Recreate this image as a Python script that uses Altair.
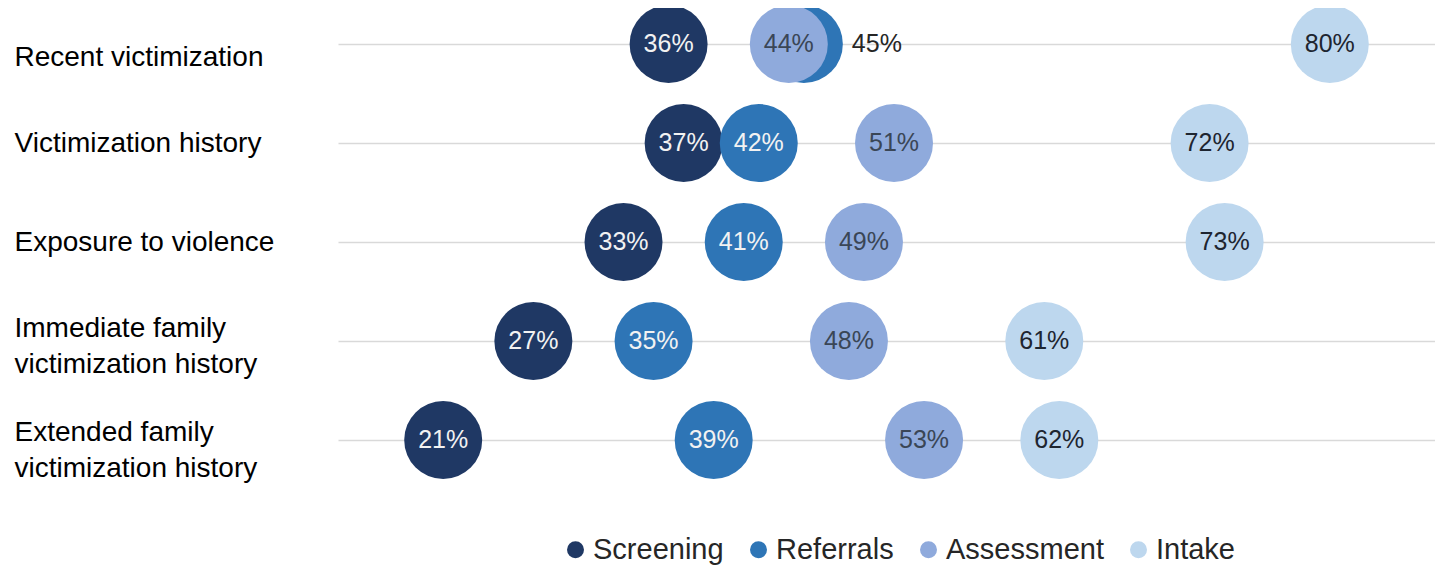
import altair as alt
import pandas as pd

categories = [
    "Recent victimization",
    "Victimization history",
    "Exposure to violence",
    "Immediate family victimization history",
    "Extended family victimization history",
]
series = ["Screening", "Referrals", "Assessment", "Intake"]
screening = [36, 37, 33, 27, 21]
referrals = [45, 42, 41, 35, 39]
assessment = [44, 51, 49, 48, 53]
intake = [80, 72, 73, 61, 62]

colors = ["#1F3864", "#2E75B6", "#8FAADC", "#BDD7EE"]
text_colors = ["#F2F2F2", "#F2F2F2", "#3A4656", "#1E2530"]

values = [screening, referrals, assessment, intake]
rows = []
for si, s in enumerate(series):
    for ci, c in enumerate(categories):
        v = values[si][ci]
        # label goes outside if a later-drawn circle overlaps this one
        covered = any(abs(values[sj][ci] - v) < 3 for sj in range(si + 1, len(series)))
        rows.append({"category": c, "series": s, "value": v,
                     "label": f"{v}%", "outside": covered,
                     "tcolor": text_colors[si], "order": si})
df = pd.DataFrame(rows)

FONT = "Liberation Sans"

x = alt.X("value:Q", scale=alt.Scale(domain=[14, 87], nice=False, zero=False), axis=None)
y = alt.Y(
    "category:N",
    sort=categories,
    scale=alt.Scale(type="point", padding=0.283),
    axis=alt.Axis(
        title=None, grid=True, gridColor="#D9D9D9", gridWidth=1.5,
        domain=False, ticks=False, labelAlign="left", labelPadding=324,
        labelFontSize=28, labelFont=FONT, labelColor="#000000", labelLimit=0,
        labelLineHeight=36, labelBaseline="middle",
        labelOffset={"expr": "datum.value == 'Recent victimization' ? 13 : indexof(datum.value, 'Immediate') == 0 ? -12 : indexof(datum.value, 'Extended') == 0 ? -7 : 0"},
        labelExpr="indexof(datum.label, 'family ') >= 0 ? split(replace(datum.label, 'family ', 'family|'), '|') : datum.label",
    ),
)

base = alt.Chart(df)

circles = base.mark_circle(size=6084, opacity=1).encode(
    x=x, y=y,
    color=alt.Color(
        "series:N",
        scale=alt.Scale(domain=series, range=colors),
        sort=series,
        legend=alt.Legend(
            title=None, orient="none", direction="horizontal",
            legendX=223, legendY=519, symbolType="circle", symbolSize=289,
            symbolStrokeWidth=0, labelFontSize=29, labelFont=FONT,
            labelColor="#262626", columnPadding=20, labelOffset=3, padding=0,
        ),
    ),
    order=alt.Order("order:Q"),
)

inside = base.transform_filter("!datum.outside").mark_text(
    fontSize=25, font=FONT, align="center", baseline="middle"
).encode(x=x, y=y, text="label:N", color=alt.Color("tcolor:N", scale=None))

outside = base.transform_filter("datum.outside").mark_text(
    fontSize=25, font=FONT, align="center", baseline="middle", dx=73, color="#262626"
).encode(x=x, y=y, text="label:N")

chart = alt.layer(circles, inside, outside).properties(
    width=1097, height=452,
    background="white",
    autosize=alt.AutoSizeParams(type="none"),
    padding={"left": 330, "top": 8, "right": 0, "bottom": 99},
).configure_view(stroke=None, strokeWidth=0)

chart.save("out.html", embed_options={"renderer": "svg", "actions": False})
